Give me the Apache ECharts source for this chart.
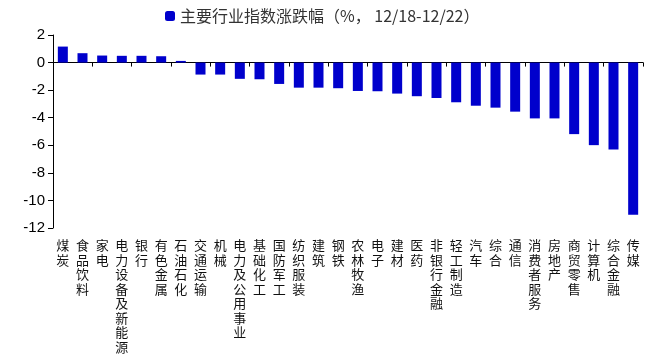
<!DOCTYPE html>
<html>
<head>
<meta charset="utf-8">
<script src="https://cdn.jsdelivr.net/npm/echarts@6/dist/echarts.min.js"></script>
<style>
  html, body { margin: 0; padding: 0; background: #fff; }
  #chart { width: 656px; height: 358px; }
</style>
</head>
<body>
<div id="chart"></div>
<script>
const industries = ['煤炭', '食品饮料', '家电', '电力设备及新能源', '银行', '有色金属', '石油石化', '交通运输', '机械', '电力及公用事业',
  '基础化工', '国防军工', '纺织服装', '建筑', '钢铁', '农林牧渔', '电子', '建材', '医药', '非银行金融',
  '轻工制造', '汽车', '综合', '通信', '消费者服务', '房地产', '商贸零售', '计算机', '综合金融', '传媒'];
const weeklyChange = [1.16, 0.68, 0.51, 0.49, 0.49, 0.46, 0.12, -0.87, -0.87, -1.18,
  -1.21, -1.55, -1.82, -1.82, -1.86, -2.06, -2.08, -2.25, -2.44, -2.57,
  -2.88, -3.13, -3.27, -3.56, -4.05, -4.05, -5.19, -5.99, -6.30, -11.03];
const legendName = '主要行业指数涨跌幅（%， 12/18-12/22）';

const myChart = echarts.init(document.getElementById('chart'));

const option = {
    animation: false,
    legend: {
        data: [legendName],
        top: 3,
        left: 160,
        itemWidth: 10,
        itemHeight: 10,
        itemGap: 5,
        textStyle: {
            color: '#333',
            fontSize: 16,
            fontFamily: 'Noto Sans CJK SC'
        }
    },
    grid: {
        left: 53,
        right: 13,
        top: 35,
        bottom: 130,
        outerBoundsMode: 'none'
    },
    xAxis: [{
        type: 'category',
        data: industries,
        axisLine: {
            onZero: true,
            lineStyle: { color: '#000', width: 1 }
        },
        axisTick: {
            show: true,
            interval: 1,
            length: 4,
            lineStyle: { color: '#000' }
        },
        axisLabel: { show: false }
    }, {
        type: 'category',
        data: industries,
        position: 'bottom',
        axisLine: { show: false, onZero: false },
        axisTick: { show: false },
        axisLabel: {
            interval: 0,
            margin: 10,
            color: '#111',
            fontSize: 13,
            lineHeight: 14.5,
            fontFamily: 'Noto Sans CJK SC',
            verticalAlign: 'top',
            formatter: value => value.split('').join('\n') // 竖排
        }
    }],
    yAxis: {
        type: 'value',
        min: -12,
        max: 2,
        interval: 2,
        axisLine: {
            show: true,
            lineStyle: { color: '#000', width: 1 }
        },
        axisTick: {
            show: true,
            length: 5,
            lineStyle: { color: '#000' }
        },
        splitLine: { show: false },
        axisLabel: {
            color: '#000',
            fontSize: 15,
            margin: 8,
            fontFamily: 'Liberation Sans'
        }
    },
    series: [{
        name: legendName,
        type: 'bar',
        xAxisIndex: 0,
        data: weeklyChange,
        barWidth: 10,
        itemStyle: { color: '#0000CC' }
    }]
};

myChart.setOption(option);
</script>
</body>
</html>
